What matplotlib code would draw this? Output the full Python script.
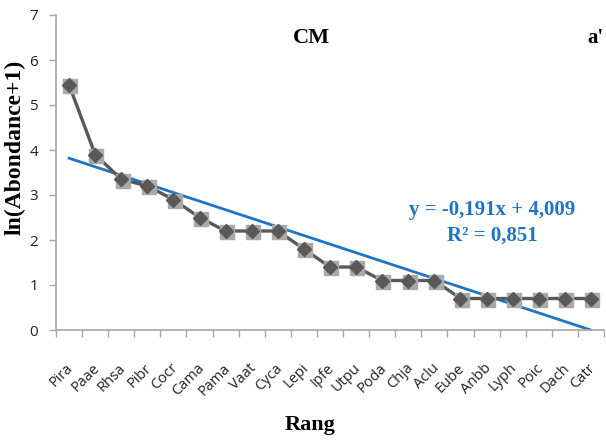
import numpy as np
import matplotlib
matplotlib.use('Agg')
import matplotlib.pyplot as plt
from matplotlib.transforms import ScaledTranslation

# data
species = ['Pira', 'Paae', 'Rhsa', 'Pibr', 'Cocr', 'Cama', 'Pama', 'Vaat', 'Cyca', 'Lepi',
           'Ipfe', 'Utpu', 'Poda', 'Chja', 'Aclu', 'Eube', 'Anbb', 'Lyph', 'Poic', 'Dach', 'Catr']
ln_abund = [5.45, 3.9, 3.35, 3.2, 2.9, 2.5, 2.2, 2.2, 2.2, 1.8,
            1.4, 1.4, 1.1, 1.1, 1.1, 0.7, 0.7, 0.7, 0.7, 0.7, 0.7]
slope = -0.191
intercept = 4.009
r2 = 0.851

rank = np.arange(1, len(species) + 1)

fig = plt.figure(figsize=(6.06, 4.42), dpi=100)
ax = fig.add_axes([56/606, (442-330)/442, (604-56)/606, (330-15)/442])

serif = 'Liberation Serif'
blue = '#1f74c4'
grey_line = '#595959'

# trend line
trend = slope * rank + intercept
ax.plot(rank, trend, color=blue, lw=2.0, zorder=2)

# series: light square shadow + dark diamond
ax.plot(rank, ln_abund, color=grey_line, lw=2.4, zorder=3)
ax.plot(rank + 0.05, np.array(ln_abund) - 0.03, ls='none', marker='s', ms=10,
        color='#a9a9a9', mec='#a9a9a9', zorder=3)
ax.plot(rank, ln_abund, ls='none', marker='D', ms=7.5, color=grey_line, mec=grey_line, zorder=4)

ax.set_xlim(0.5, len(species) + 0.5)
ax.set_ylim(0, 7)
ax.set_yticks(range(0, 8))
ax.tick_params(axis='y', length=5, width=1, color='#a6a6a6', labelsize=11, pad=8)

# category boundaries as ticks, labels at the centres
ax.set_xticks(np.arange(0.5, len(species) + 1, 1.0))
ax.set_xticklabels([])
ax.set_xticks(rank, minor=True)
ax.set_xticklabels(species, minor=True, rotation=45, ha='right', va='top',
                   rotation_mode='anchor', fontsize=10.5, family='Open Sans', color='#222222')
ax.tick_params(axis='x', which='major', length=5, width=1, color='#a6a6a6')
ax.tick_params(axis='x', which='minor', length=0, pad=22)
shift = ScaledTranslation(-3/100, 0, fig.dpi_scale_trans)
for lab in ax.get_xticklabels(minor=True):
    lab.set_transform(lab.get_transform() + shift)
for lab in ax.get_yticklabels():
    lab.set_family('Open Sans')
    lab.set_color('#222222')

for side in ['top', 'right']:
    ax.spines[side].set_visible(False)
for side in ['left', 'bottom']:
    ax.spines[side].set_color('#a6a6a6')
    ax.spines[side].set_linewidth(1.2)

ax.set_ylabel('ln(Abondance+1)', family=serif, fontweight='bold', fontsize=17)
ax.yaxis.set_label_coords(-30/548, (330-147)/315)
fig.text(310/606, 1 - 425/442, 'Rang', family=serif, fontweight='bold', fontsize=16,
         ha='center', va='center')
fig.text(311/606, 1 - 38/442, 'CM', family=serif, fontweight='bold', fontsize=16,
         ha='center', va='center')
fig.text(595/606, 1 - 38/442, "a'", family=serif, fontweight='bold', fontsize=15,
         ha='center', va='center')

eq = f'y = {slope:.3f}x + {intercept:.3f}'.replace('.', ',')
fig.text(492/606, 1 - 210/442, eq, family=serif, fontweight='bold', fontsize=15,
         color=blue, ha='center', va='center')
fig.text(492/606, 1 - 236/442, f'R² = {r2:.3f}'.replace('.', ','), family=serif,
         fontweight='bold', fontsize=15, color=blue, ha='center', va='center')

fig.savefig('out.png', dpi=100)
